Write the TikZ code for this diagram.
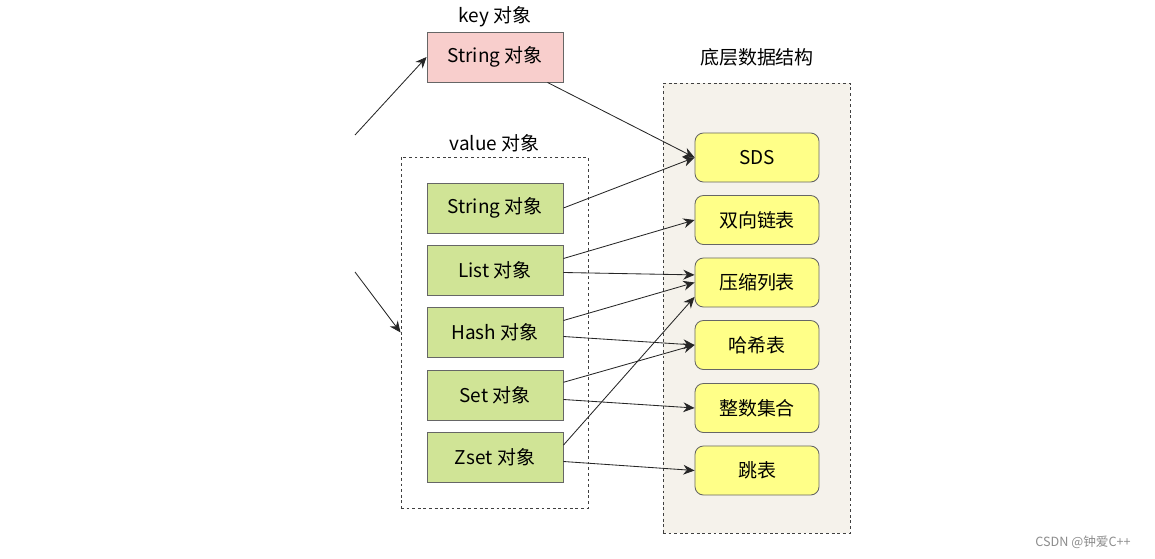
\documentclass[tikz,border=0pt]{standalone}
\usepackage{fontspec}
\setmainfont{Noto Sans CJK SC}
\usetikzlibrary{positioning,arrows.meta}

\definecolor{keypink}{HTML}{F8CECC}
\definecolor{objgreen}{HTML}{D0E496}
\definecolor{dsyellow}{HTML}{FFFF88}
\definecolor{dsback}{HTML}{F5F2EB}
\definecolor{boxline}{HTML}{666666}

\tikzset{
  objbox/.style={draw=boxline, fill=objgreen, semithick, minimum width=3.4cm, minimum height=1.25cm},
  dsbox/.style={draw=boxline, fill=dsyellow, semithick, rounded corners=6pt, minimum width=3.1cm, minimum height=1.225cm},
  groupbox/.style={draw=black!75, semithick, dash pattern=on 2pt off 2pt, minimum width=4.675cm},
  arr/.style={-{Stealth[length=8pt,width=7pt]}, black!85, semithick}
}

\begin{document}
\begin{tikzpicture}[x=0.025cm, y=-0.025cm, font=\fontsize{13.5pt}{15pt}\selectfont]
      \useasboundingbox (0,0) rectangle (1155,558);
      % groups
      \node[groupbox, minimum height=8.775cm] (valuebox) at (494.5,332.5) {};
      \node[groupbox, fill=dsback, minimum height=11.25cm] (dsgroup) at (756.5,308) {};
      \node[above=0pt of valuebox] (valuetitle) {value 对象};
      \node at (757,57) (dstitle) {底层数据结构};
      % key object
      \node[objbox, fill=keypink] (key) at (495,57) {String 对象};
      \node[above=0pt of key] (keytitle) {key 对象};
      % value objects
      \node[objbox] (string) at (495,208) {String 对象};
      \node[objbox] (list) at (495,270.5) {List 对象};
      \node[objbox] (hash) at (495,332.5) {Hash 对象};
      \node[objbox] (set) at (495,395.5) {Set 对象};
      \node[objbox] (zset) at (495,457.5) {Zset 对象};
      % data structures
      \node[dsbox] (sds) at (757,157.5) {SDS};
      \node[dsbox] (linkedlist) at (757,220) {双向链表};
      \node[dsbox] (ziplist) at (757,282.5) {压缩列表};
      \node[dsbox] (hashtable) at (757,345) {哈希表};
      \node[dsbox] (intset) at (757,408) {整数集合};
      \node[dsbox] (skiplist) at (757,470.5) {跳表};
      % watermark
      \node[text=black!45, font=\fontsize{9pt}{11pt}\selectfont] (mark) at (1083,542) {CSDN @钟爱C++};
      % free ends
      \coordinate (keyin) at (355,135);
      \coordinate (valuein) at (355,272);
      \draw[arr] (keyin) -- (key.west);
      \draw[arr] (valuein) -- (valuebox.west);
      % links
      \draw[arr] ([xshift=-0.4cm]key.south east) -- (sds.west);
      \draw[arr] (string.east) -- (sds.west);
      \draw[arr] ([yshift=0.3cm]list.east) -- (linkedlist.west);
      \draw[arr] ([yshift=-0.05cm]list.east) -- ([yshift=0.19cm]ziplist.west);
      \draw[arr] ([yshift=0.3cm]hash.east) -- (ziplist.west);
      \draw[arr] ([yshift=-0.1cm]hash.east) -- (hashtable.west);
      \draw[arr] ([yshift=0.33cm]set.east) -- (hashtable.west);
      \draw[arr] ([yshift=-0.1cm]set.east) -- (intset.west);
      \draw[arr] ([yshift=0.31cm]zset.east) -- ([yshift=-0.36cm]ziplist.west);
      \draw[arr] ([yshift=-0.1cm]zset.east) -- (skiplist.west);
    \end{tikzpicture}
\end{document}
